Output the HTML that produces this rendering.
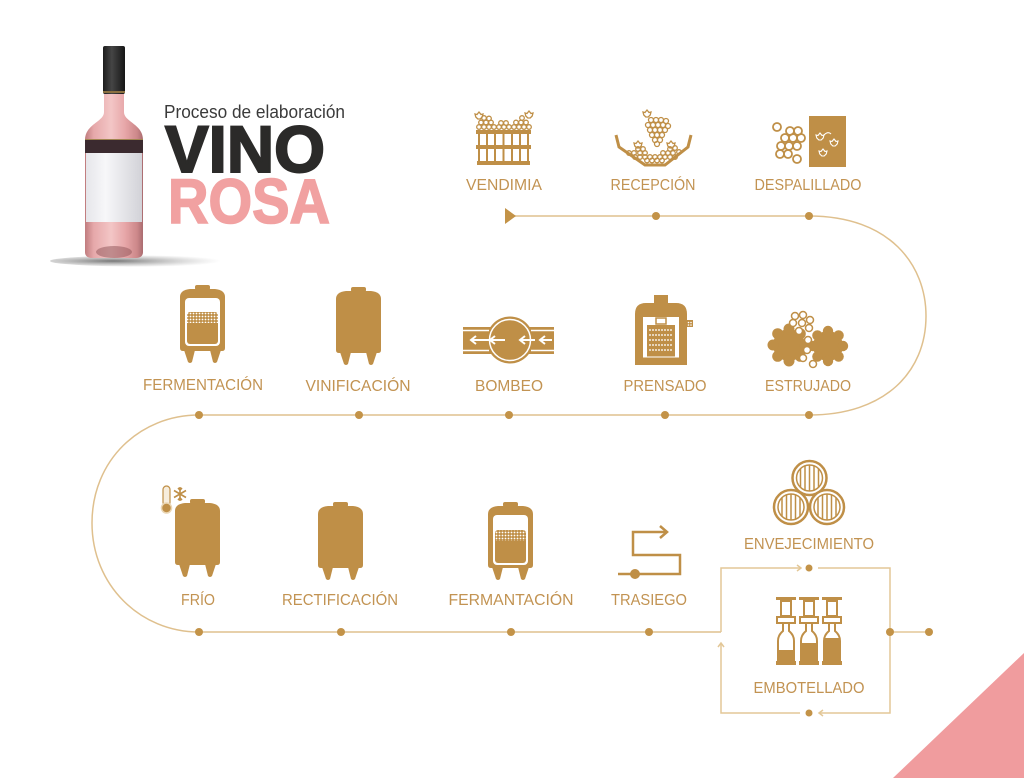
<!DOCTYPE html>
<html><head><meta charset="utf-8"><style>
html,body{margin:0;padding:0;background:#fff;}
svg{display:block;}
.lb{font-family:"Liberation Sans",sans-serif;font-size:16px;fill:#c29352;text-anchor:middle;}
</style></head><body>
<svg width="1024" height="778" viewBox="0 0 1024 778" xmlns="http://www.w3.org/2000/svg">
<defs>
<linearGradient id="pink" x1="0" x2="1" y1="0" y2="0">
<stop offset="0" stop-color="#c07c7e"/><stop offset="0.15" stop-color="#e6a8aa"/><stop offset="0.45" stop-color="#f3c6c6"/><stop offset="0.7" stop-color="#e6a5a7"/><stop offset="0.9" stop-color="#cc8789"/><stop offset="1" stop-color="#aa6c70"/>
</linearGradient>
<linearGradient id="cap" x1="0" x2="1"><stop offset="0" stop-color="#1c1c1c"/><stop offset="0.4" stop-color="#454545"/><stop offset="1" stop-color="#161616"/></linearGradient>
<linearGradient id="lab" x1="0" x2="1"><stop offset="0" stop-color="#e6e6ea"/><stop offset="0.35" stop-color="#f7f7f9"/><stop offset="1" stop-color="#d2d2d8"/></linearGradient>
<radialGradient id="shd" cx="0.35" cy="0.5" r="0.6"><stop offset="0" stop-color="#555" stop-opacity="0.8"/><stop offset="1" stop-color="#999" stop-opacity="0"/></radialGradient>
<pattern id="bub" width="3" height="3" patternUnits="userSpaceOnUse"><circle cx="1.5" cy="1.5" r="0.9" fill="#fff"/></pattern>
<g id="tank">
<rect x="15" y="0" width="15" height="5" rx="2" fill="#bf8f47"/>
<path d="M0,12 Q0,5 10,4 L35,4 Q45,5 45,12 L45,63 Q45,66 42,66 L3,66 Q0,66 0,63 Z" fill="#bf8f47"/>
<path d="M4,65 L15,65 L12,77 Q10,79 8,77 Z M30,65 L41,65 L37,77 Q35,79 33,77 Z" fill="#bf8f47"/>
</g>
<g id="barrel">
<circle r="17" fill="#fff" stroke="#bf8f47" stroke-width="2.5"/>
<circle r="13" fill="none" stroke="#bf8f47" stroke-width="1.5"/>
<path d="M-9,-9.4 V9.4 M-4.5,-12.2 V12.2 M0,-13 V13 M4.5,-12.2 V12.2 M9,-9.4 V9.4" stroke="#bf8f47" stroke-width="1.5"/>
</g>
<g id="btl">
<rect x="-10" y="0" width="20" height="3" fill="#bf8f47"/>
<rect x="-5" y="4" width="10" height="15" fill="none" stroke="#bf8f47" stroke-width="2"/>
<rect x="-9" y="20" width="18" height="6" fill="none" stroke="#bf8f47" stroke-width="2"/>
<path d="M-3,26 L-3,34 Q-8,38 -8,44 L-8,65 L8,65 L8,44 Q8,38 3,34 L3,26" fill="none" stroke="#bf8f47" stroke-width="2"/>
<rect x="-10" y="64" width="20" height="4" fill="#bf8f47"/>
</g>
<path id="leaf" d="M0,-4 L2,-1.5 L4,-2 L3.2,1 L1.2,3 L-1.2,3 L-3.2,1 L-4,-2 L-2,-1.5 Z"/>
</defs>

<!-- pink triangle -->
<polygon points="893,778 1024,653 1024,778" fill="#f09c9e"/>

<!-- bottle -->
<ellipse cx="140" cy="261" rx="90" ry="5.5" fill="url(#shd)"/>
<path d="M104,93 L124,93 L124,112 C124,122 143,124 143,140 L143,252 C143,257 139,258 135,258 L93,258 C89,258 85,257 85,252 L85,140 C85,124 104,122 104,112 Z" fill="url(#pink)"/>
<ellipse cx="114" cy="252" rx="18" ry="6" fill="#8d5156" opacity="0.5"/>
<rect x="103" y="46" width="22" height="48" rx="2" fill="url(#cap)"/>
<rect x="103" y="91" width="22" height="2" fill="#8a7040"/>
<rect x="85" y="139" width="58" height="1.5" fill="#a08550"/>
<rect x="85" y="140" width="58" height="13" fill="#3b2a2f"/>
<rect x="86" y="153" width="56" height="69" fill="url(#lab)"/>

<!-- title -->
<text x="164" y="118" font-family="Liberation Sans, sans-serif" font-size="18" fill="#3a3a3a" textLength="181" lengthAdjust="spacingAndGlyphs">Proceso de elaboración</text>
<text x="165" y="172" font-family="Liberation Sans, sans-serif" font-weight="bold" font-size="66" fill="#2b2a29" stroke="#2b2a29" stroke-width="2" textLength="160" lengthAdjust="spacingAndGlyphs">VINO</text>
<text x="168" y="223" font-family="Liberation Sans, sans-serif" font-weight="bold" font-size="63" fill="#f1a1a1" stroke="#f1a1a1" stroke-width="1.6" textLength="162" lengthAdjust="spacingAndGlyphs">ROSA</text>

<!-- main connector line -->
<path d="M505,216 L809,216 C890,216 926,265 926,316 C926,372 885,415 809,415 L199,415 C140,415 92,460 92,523 C92,585 140,632 199,632 L721,632" fill="none" stroke="#dfc08e" stroke-width="1.5"/>
<polygon points="505,208 505,224 516,216" fill="#c39348"/>
<g fill="#c39348">
<circle cx="656" cy="216" r="4"/><circle cx="809" cy="216" r="4"/>
<circle cx="199" cy="415" r="4"/><circle cx="359" cy="415" r="4"/><circle cx="509" cy="415" r="4"/><circle cx="665" cy="415" r="4"/><circle cx="809" cy="415" r="4"/>
<circle cx="199" cy="632" r="4"/><circle cx="341" cy="632" r="4"/><circle cx="511" cy="632" r="4"/><circle cx="649" cy="632" r="4"/>
</g>

<!-- box -->
<g fill="none" stroke="#e3c797" stroke-width="1.5">
<path d="M721,632 L721,568 L800,568"/>
<path d="M797,565 L801,568 L797,571"/>
<path d="M818,568 L890,568 L890,713 L819,713"/>
<path d="M823,710 L819,713 L823,716"/>
<path d="M800,713 L721,713 L721,643"/>
<path d="M718,647 L721,643 L724,647"/>
<path d="M890,632 L929,632"/>
</g>
<g fill="#c39348"><circle cx="809" cy="568" r="3.5"/><circle cx="809" cy="713" r="3.5"/><circle cx="890" cy="632" r="4"/><circle cx="929" cy="632" r="4"/></g>

<!-- VENDIMIA icon -->
<g fill="none" stroke="#bf8f47" stroke-width="1.3">
<circle cx="479" cy="127" r="2.3"/><circle cx="484" cy="127" r="2.3"/><circle cx="489" cy="127" r="2.3"/><circle cx="494" cy="127" r="2.3"/><circle cx="499" cy="127" r="2.3"/><circle cx="504" cy="127" r="2.3"/><circle cx="509" cy="127" r="2.3"/><circle cx="514" cy="127" r="2.3"/><circle cx="519" cy="127" r="2.3"/><circle cx="524" cy="127" r="2.3"/><circle cx="529" cy="127" r="2.3"/>
<circle cx="481" cy="122.5" r="2.3"/><circle cx="486" cy="122.5" r="2.3"/><circle cx="491" cy="122.5" r="2.3"/><circle cx="501" cy="123" r="2.3"/><circle cx="506" cy="123" r="2.3"/><circle cx="516" cy="122.5" r="2.3"/><circle cx="521" cy="122.5" r="2.3"/><circle cx="526" cy="122.5" r="2.3"/>
<circle cx="484" cy="118" r="2.3"/><circle cx="489" cy="118.5" r="2.3"/><circle cx="522" cy="118" r="2.3"/>
<use href="#leaf" x="479" y="116"/><use href="#leaf" x="529" y="115"/>
</g>
<g fill="#bf8f47">
<rect x="476" y="130" width="55" height="4"/>
<rect x="476" y="145" width="55" height="4"/>
<rect x="477" y="161" width="53" height="4"/>
</g>
<path d="M479,134 V161 M487,134 V161 M495,134 V161 M503.5,134 V161 M512,134 V161 M520,134 V161 M528,134 V161" stroke="#bf8f47" stroke-width="2"/>

<!-- RECEPCIÓN icon -->
<path d="M616,135 L619,147 L645,165 L665,165 L688,147 L691,135" fill="none" stroke="#bf8f47" stroke-width="3"/>
<g fill="none" stroke="#bf8f47" stroke-width="1.3">
<circle cx="647" cy="160.5" r="2.3"/><circle cx="652" cy="160.5" r="2.3"/><circle cx="657" cy="160.5" r="2.3"/><circle cx="662" cy="160.5" r="2.3"/>
<circle cx="635" cy="157" r="2.3"/><circle cx="640" cy="157" r="2.3"/><circle cx="645" cy="157" r="2.3"/><circle cx="650" cy="157" r="2.3"/><circle cx="655" cy="157" r="2.3"/><circle cx="660" cy="157" r="2.3"/><circle cx="665" cy="157" r="2.3"/><circle cx="670" cy="157" r="2.3"/><circle cx="675" cy="157" r="2.3"/>
<circle cx="629" cy="153" r="2.3"/><circle cx="634" cy="153" r="2.3"/><circle cx="640" cy="153" r="2.3"/><circle cx="645" cy="153" r="2.3"/><circle cx="663" cy="153" r="2.3"/><circle cx="668" cy="153" r="2.3"/><circle cx="673" cy="153" r="2.3"/><circle cx="679" cy="152" r="2.3"/>
<circle cx="638" cy="149" r="2.3"/><circle cx="643" cy="149" r="2.3"/><circle cx="670" cy="149" r="2.3"/><circle cx="675" cy="148" r="2.3"/>
<use href="#leaf" x="638" y="145"/><use href="#leaf" x="671" y="145"/>
<circle cx="651" cy="120" r="2.5"/><circle cx="656" cy="120" r="2.5"/><circle cx="661" cy="120" r="2.5"/><circle cx="666" cy="121" r="2.5"/>
<circle cx="648" cy="125" r="2.5"/><circle cx="653" cy="125" r="2.5"/><circle cx="658" cy="125" r="2.5"/><circle cx="663" cy="125" r="2.5"/><circle cx="668" cy="126" r="2.5"/>
<circle cx="650" cy="130" r="2.5"/><circle cx="655" cy="130" r="2.5"/><circle cx="660" cy="130" r="2.5"/><circle cx="665" cy="130" r="2.5"/>
<circle cx="652" cy="135" r="2.5"/><circle cx="657" cy="135" r="2.5"/><circle cx="662" cy="135" r="2.5"/>
<circle cx="655" cy="140" r="2.5"/><circle cx="660" cy="140" r="2.5"/><circle cx="657" cy="144" r="2.5"/>
<use href="#leaf" x="647" y="114"/>
</g>

<!-- DESPALILLADO icon -->
<g fill="none" stroke="#bf8f47" stroke-width="1.8">
<circle cx="777" cy="127" r="4"/>
<circle cx="790" cy="131" r="4"/><circle cx="798" cy="131" r="4"/>
<circle cx="785" cy="138" r="4"/><circle cx="793" cy="138" r="4"/><circle cx="801" cy="138" r="4"/>
<circle cx="781" cy="146" r="4"/><circle cx="789" cy="146" r="4"/><circle cx="797" cy="146" r="4"/>
<circle cx="780" cy="154" r="4"/><circle cx="788" cy="154" r="4"/>
<circle cx="797" cy="159" r="4"/>
</g>
<rect x="809" y="116" width="37" height="51" fill="#bf8f47"/>
<g fill="none" stroke="#fff" stroke-width="1.1">
<use href="#leaf" x="820" y="137"/><use href="#leaf" x="834" y="143"/><use href="#leaf" x="823" y="153"/>
<path d="M824,135 Q828,131 831,134"/>
</g>

<!-- FERMENTACIÓN tank -->
<use href="#tank" x="180" y="285"/>
<rect x="185" y="298" width="35" height="48" rx="4" fill="#fff"/>
<rect x="187" y="312" width="31" height="32" rx="3" fill="#bf8f47"/>
<rect x="187" y="312" width="31" height="11" fill="url(#bub)"/>

<!-- VINIFICACIÓN tank -->
<use href="#tank" x="336" y="287"/>

<!-- BOMBEO -->
<rect x="463" y="327" width="91" height="27" fill="#bf8f47"/>
<circle cx="510" cy="340" r="23.5" fill="#bf8f47"/>
<circle cx="510" cy="340" r="20.5" fill="none" stroke="#fff" stroke-width="1.5"/>
<path d="M463,330.5 H489 M531,330.5 H554 M463,350.5 H489 M531,350.5 H554" stroke="#fff" stroke-width="1.5"/>
<g fill="none" stroke="#fff" stroke-width="2">
<path d="M471,340 H490 M476,336 L471,340 L476,344"/>
<path d="M490,340 H505 M495,336 L490,340 L495,344"/>
<path d="M520,340 H535 M525,336 L520,340 L525,344"/>
<path d="M540,340 H552 M545,336 L540,340 L545,344"/>
</g>

<!-- PRENSADO -->
<g fill="#bf8f47">
<rect x="654" y="295" width="14" height="9"/>
<path d="M635,365 L635,314 Q635,303 646,303 L676,303 Q687,303 687,314 L687,365 L679,365 L679,317 L643,317 L643,365 Z"/>
<rect x="647" y="325" width="28" height="32"/>
<rect x="643" y="357" width="36" height="8"/>
<rect x="686" y="320" width="7" height="7"/>
</g>
<rect x="656" y="318" width="10" height="6" fill="none" stroke="#bf8f47" stroke-width="1.5"/>
<path d="M649,330 H673 M649,335 H673 M649,340 H673 M649,345 H673 M649,350 H673" stroke="#fff" stroke-width="1.2" stroke-dasharray="2 1"/>
<path d="M643,357 H679" stroke="#fff" stroke-width="1"/>
<g fill="#fff"><circle cx="688.5" cy="322.5" r="0.8"/><circle cx="691" cy="322.5" r="0.8"/><circle cx="688.5" cy="325" r="0.8"/><circle cx="691" cy="325" r="0.8"/></g>

<!-- ESTRUJADO -->
<g fill="#bf8f47">
<circle cx="789" cy="345" r="16"/>
<circle cx="789" cy="329" r="5.5"/><circle cx="800.3" cy="333.7" r="5.5"/><circle cx="805" cy="345" r="5.5"/><circle cx="800.3" cy="356.3" r="5.5"/><circle cx="789" cy="361" r="5.5"/><circle cx="777.7" cy="356.3" r="5.5"/><circle cx="773" cy="345" r="5.5"/><circle cx="777.7" cy="333.7" r="5.5"/>
<circle cx="828" cy="346" r="15"/>
<circle cx="828" cy="331" r="5.2"/><circle cx="838.6" cy="335.4" r="5.2"/><circle cx="843" cy="346" r="5.2"/><circle cx="838.6" cy="356.6" r="5.2"/><circle cx="828" cy="361" r="5.2"/><circle cx="817.4" cy="356.6" r="5.2"/><circle cx="813" cy="346" r="5.2"/><circle cx="817.4" cy="335.4" r="5.2"/>
</g>
<g fill="#fff" stroke="#bf8f47" stroke-width="1.5">
<circle cx="795" cy="316" r="3.5"/><circle cx="803" cy="315" r="3.5"/><circle cx="810" cy="320" r="3.5"/>
<circle cx="793" cy="323" r="3.5"/><circle cx="802" cy="323" r="3.5"/><circle cx="809" cy="328" r="3.5"/><circle cx="799" cy="331" r="3.5"/>
<circle cx="808" cy="340" r="3.5"/><circle cx="807" cy="350" r="3.5"/><circle cx="803" cy="358" r="3.5"/><circle cx="813" cy="364" r="3.5"/>
</g>

<!-- FRÍO -->
<use href="#tank" x="175" y="499"/>
<rect x="163" y="486" width="7" height="20" rx="3.5" fill="#f7eddc" stroke="#bf8f47" stroke-width="1.2"/>
<circle cx="166.5" cy="508" r="5" fill="#bf8f47" stroke="#ead6b4" stroke-width="1.5"/>
<g stroke="#bf8f47" stroke-width="1.6" fill="none">
<path d="M180,487 V501 M174,490.5 L186,497.5 M174,497.5 L186,490.5"/>
<path d="M178,488 L180,490 L182,488 M178,500 L180,498 L182,500"/>
</g>

<!-- RECTIFICACIÓN -->
<use href="#tank" x="318" y="502"/>

<!-- FERMANTACIÓN -->
<use href="#tank" x="488" y="502"/>
<rect x="493" y="515" width="35" height="50" rx="4" fill="#fff"/>
<rect x="495" y="530" width="31" height="33" rx="3" fill="#bf8f47"/>
<rect x="495" y="530" width="31" height="11" fill="url(#bub)"/>

<!-- TRASIEGO -->
<polyline points="618,574 680,574 680,555 633,555 633,532 667,532" fill="none" stroke="#bf8f47" stroke-width="2.5"/>
<polyline points="660,526 667,532 660,538" fill="none" stroke="#bf8f47" stroke-width="2.5"/>
<circle cx="635" cy="574" r="5" fill="#bf8f47"/>

<!-- ENVEJECIMIENTO -->
<use href="#barrel" x="809.5" y="478"/>
<use href="#barrel" x="791" y="507"/>
<use href="#barrel" x="827" y="507"/>

<!-- EMBOTELLADO -->
<rect x="779" y="650" width="14" height="14" fill="#bf8f47"/>
<rect x="802" y="643" width="14" height="21" fill="#bf8f47"/>
<rect x="825" y="638" width="14" height="26" fill="#bf8f47"/>
<use href="#btl" x="786" y="597"/>
<use href="#btl" x="809" y="597"/>
<use href="#btl" x="832" y="597"/>

<!-- labels -->
<text class="lb" x="504" y="190" textLength="76" lengthAdjust="spacingAndGlyphs">VENDIMIA</text>
<text class="lb" x="653" y="190" textLength="85" lengthAdjust="spacingAndGlyphs">RECEPCIÓN</text>
<text class="lb" x="808" y="190" textLength="107" lengthAdjust="spacingAndGlyphs">DESPALILLADO</text>
<text class="lb" x="203" y="390" textLength="120" lengthAdjust="spacingAndGlyphs">FERMENTACIÓN</text>
<text class="lb" x="358" y="391" textLength="105" lengthAdjust="spacingAndGlyphs">VINIFICACIÓN</text>
<text class="lb" x="509" y="391" textLength="68" lengthAdjust="spacingAndGlyphs">BOMBEO</text>
<text class="lb" x="665" y="391" textLength="83" lengthAdjust="spacingAndGlyphs">PRENSADO</text>
<text class="lb" x="808" y="391" textLength="86" lengthAdjust="spacingAndGlyphs">ESTRUJADO</text>
<text class="lb" x="198" y="605" textLength="34" lengthAdjust="spacingAndGlyphs">FRÍO</text>
<text class="lb" x="340" y="605" textLength="116" lengthAdjust="spacingAndGlyphs">RECTIFICACIÓN</text>
<text class="lb" x="511" y="605" textLength="125" lengthAdjust="spacingAndGlyphs">FERMANTACIÓN</text>
<text class="lb" x="649" y="605" textLength="76" lengthAdjust="spacingAndGlyphs">TRASIEGO</text>
<text class="lb" x="809" y="549" textLength="130" lengthAdjust="spacingAndGlyphs">ENVEJECIMIENTO</text>
<text class="lb" x="809" y="693" textLength="111" lengthAdjust="spacingAndGlyphs">EMBOTELLADO</text>
</svg>
</body></html>
